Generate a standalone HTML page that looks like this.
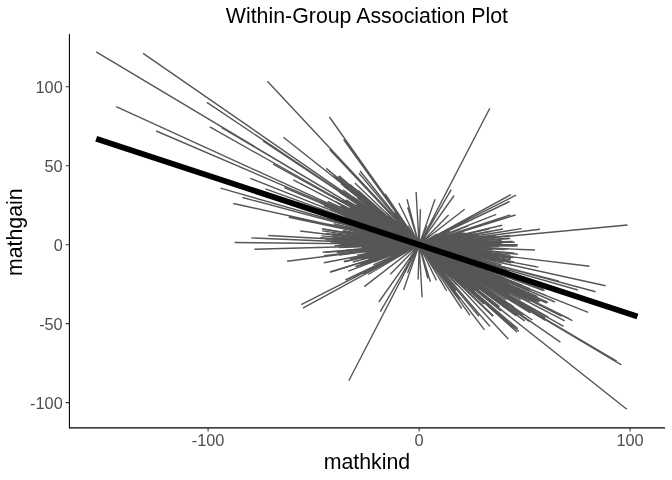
<!DOCTYPE html><html><head><meta charset="utf-8"><style>html,body{margin:0;padding:0;background:#fff;overflow:hidden;width:672px;height:480px;}svg{display:block;will-change:transform;}text{font-family:"Liberation Sans",sans-serif;}</style></head><body>
<svg width="672" height="480" viewBox="0 0 672 480">
<rect width="672" height="480" fill="#fff"/>
<g stroke="#565656" stroke-width="1.4" fill="none" stroke-linecap="butt">
<path d="M511.4 305.4L339.6 192.4M502.7 316.6L339.0 175.8M498.4 273.0L318.0 208.5M523.3 314.8L386.5 222.7M474.1 276.2L354.4 207.6M454.0 266.6L378.7 219.2M533.8 299.2L335.3 204.8M525.9 289.3L380.9 228.7M462.6 273.2L393.9 228.2M465.6 282.4L382.1 214.6M511.0 326.2L378.9 209.0M487.8 304.7L354.6 188.4M537.6 296.7L339.8 209.8M513.0 327.0L378.1 208.7M468.7 270.3L381.8 225.4M483.4 268.7L344.7 216.8M517.8 278.8L364.6 225.8M524.8 296.5L356.8 214.1M496.0 282.6L340.4 205.8M543.5 290.7L389.2 233.6M516.1 315.8L393.7 226.1M478.7 289.8L357.4 197.9M461.1 259.3L376.8 229.9M463.4 283.1L349.7 184.4M517.7 328.6L374.7 206.9M499.0 285.7L335.8 201.9M522.5 285.4L330.4 209.7M453.0 271.9L335.2 177.3M486.6 270.7L344.4 215.8M474.4 291.3L338.2 176.5M478.5 281.1L371.4 215.4M462.7 263.3L380.3 228.1M529.6 321.6L383.6 220.0M544.7 290.7L349.8 219.3M474.2 274.4L349.8 207.3M484.7 296.0L368.2 204.9M538.3 288.7L388.4 233.3M522.4 305.1L384.0 224.1M524.7 320.9L352.9 196.9M459.1 274.9L366.8 205.1M530.3 290.6L369.0 224.0M536.6 311.0L332.1 195.6M481.4 299.7L366.6 198.3M488.5 294.7L375.4 213.2M466.6 270.2L365.5 215.8M517.0 332.0L358.3 190.5M481.3 281.3L386.9 225.7M522.5 293.4L327.6 201.5M521.0 297.3L336.0 201.8M503.6 303.8L343.5 191.8M514.1 293.8L372.0 220.3M516.9 301.5L344.2 201.1M536.0 301.1L344.1 208.5M453.8 266.7L355.9 204.6M513.4 288.2L357.4 216.2M499.3 306.9L343.7 186.2M509.3 290.6L338.5 203.6M476.8 289.8L341.0 183.6M501.0 311.0L333.6 175.4M486.4 303.2L363.7 196.5"/>
<path d="M529.2 291.0L320.6 203.2M510.6 297.5L342.0 200.2M464.8 277.6L342.9 189.7M506.3 299.9L364.6 210.1M514.0 307.1L350.4 199.5M453.8 269.5L384.0 219.6M508.0 294.2L377.2 221.3M501.2 301.7L391.6 225.6M472.4 275.3L389.2 227.5M484.1 271.0L377.5 227.8M458.9 261.9L356.6 217.5M505.9 290.4L349.7 208.2M533.6 296.8L391.7 232.2M477.6 276.2L363.1 214.5M529.7 288.6L362.7 222.3M511.6 278.0L383.6 231.9M480.7 282.5L352.9 204.1M507.9 322.0L370.6 202.4M499.0 306.4L371.4 207.8M508.5 281.3L348.5 215.8M518.7 331.3L358.8 192.2M530.3 301.5L392.3 231.0M506.3 279.0L344.2 215.2M511.5 282.4L323.7 205.7M490.9 282.3L376.1 222.1M538.4 302.1L364.0 218.2M514.6 328.0L359.7 192.8M539.8 300.9L355.0 214.8M518.0 244.6L354.7 244.7M468.5 253.0L356.6 234.2M478.3 259.5L370.1 232.4M501.4 264.8L333.7 223.8M466.4 258.1L327.3 218.6M503.2 254.7L372.2 239.1M517.9 254.2L368.8 239.8M490.4 258.0L357.0 233.0M501.1 243.7L380.8 245.1M502.2 240.9L368.1 247.0M469.9 243.7L352.0 245.9M481.4 249.6L364.0 240.3M451.5 247.9L371.7 240.0M480.8 239.6L325.3 252.4M449.2 252.0L337.0 224.7M479.0 244.1L348.8 245.3M482.7 248.1L325.4 239.7M475.9 239.8L361.9 249.6M469.2 252.8L332.1 230.6M453.7 245.7L330.6 242.0M469.1 247.4L334.6 240.1M512.8 241.4L379.1 246.1M483.8 240.1L366.1 248.4M459.5 249.9L348.7 235.6M464.8 250.4L332.4 233.8M504.4 249.5L342.8 240.4M512.4 276.2L324.5 212.7M497.4 255.7L386.0 240.0M493.4 256.5L323.7 229.4M499.0 246.5L379.7 243.8M459.6 245.6L346.4 243.0M473.3 268.0L381.2 228.4"/>
<path d="M456.6 247.5L362.7 240.4M454.0 247.3L385.2 242.1M510.1 235.5L379.9 248.6M479.3 244.7L367.1 244.7M514.8 242.2L362.9 246.1M453.0 245.0L340.3 243.9M482.9 258.9L327.6 224.3M485.5 262.7L348.2 225.4M466.7 249.0L336.9 237.3M482.7 263.0L381.3 233.8M500.1 254.3L376.8 239.7M496.8 263.6L345.4 226.7M454.0 254.8L381.9 233.9M489.1 259.6L373.4 234.9M470.5 256.1L335.4 226.0M451.2 244.4L338.4 245.2M514.2 262.0L342.7 230.8M464.3 250.6L381.3 239.7M502.4 271.2L381.2 232.6M492.7 249.8L364.4 240.9M491.6 253.2L365.1 238.3M474.6 257.7L380.6 235.7M503.6 262.1L360.0 232.5M508.5 238.3L353.0 249.4M500.8 240.8L361.5 247.4M455.9 244.8L386.8 244.5M510.7 255.4L355.9 237.3M501.5 256.5L389.4 240.4M491.2 231.3L360.1 255.6M480.9 254.6L382.6 238.8M474.7 253.1L362.8 236.1M509.4 260.4L379.1 237.7M460.2 248.9L369.3 239.6M464.5 254.7L356.9 230.9M470.2 267.2L331.6 206.0M496.1 257.8L343.0 231.7M456.4 236.1L344.3 261.9M468.8 252.9L342.9 232.0M463.0 248.8L387.5 241.7M465.2 245.7L383.6 243.9M473.5 233.6L368.3 255.0M478.6 264.6L371.9 228.8M460.4 248.0L372.4 240.9M495.6 235.7L323.9 255.8M517.4 246.1L388.7 244.2M453.4 244.2L334.6 245.8M487.3 249.4L320.1 237.8M484.9 253.1L365.0 237.7M511.0 258.5L355.4 235.1M513.7 257.5L385.6 240.1M476.6 250.8L385.1 241.0M466.4 251.8L361.2 235.9M451.6 247.6L321.5 235.9M461.2 250.9L354.2 235.0M455.0 243.4L367.2 246.5M455.9 252.3L352.6 230.9M505.8 268.7L375.7 232.6M450.3 245.1L351.3 243.6M475.3 240.4L345.6 250.3M499.3 254.3L325.9 233.4"/>
<path d="M506.8 249.1L373.5 242.4M456.0 254.0L368.9 232.0M502.3 271.3L369.7 228.9M457.2 253.6L384.3 236.5M478.8 251.1L349.1 237.2M465.6 252.3L385.3 239.1M462.9 248.7L369.3 240.1M475.2 248.2L382.3 242.3M501.8 244.5L350.2 244.8M510.6 259.7L344.3 232.4M479.6 251.7L332.5 234.6M494.8 238.8L322.6 252.2M467.7 248.3L332.5 238.2M475.5 238.4L380.2 249.0M466.7 253.5L343.1 230.6M468.6 251.6L385.0 239.9M450.8 248.5L385.8 240.6M458.1 241.8L364.2 248.7M488.2 267.7L375.3 230.1M478.4 235.2L364.4 253.4M489.7 251.3L331.6 236.4M499.4 254.7L382.7 240.1M498.7 246.3L357.9 243.4M514.4 253.1L333.8 237.1M511.4 262.9L358.0 232.6M478.4 255.9L359.3 233.3M485.7 254.1L322.2 230.9M489.1 229.0L382.8 252.8M452.3 250.1L321.9 228.8M451.4 243.7L348.7 246.7M475.6 234.3L374.8 252.8M468.0 251.4L375.4 238.6M501.7 243.3L372.2 245.4M473.6 247.6L371.8 242.1M502.5 277.1L350.8 218.1M477.0 249.0L379.2 241.7M451.2 250.7L377.9 237.0M456.0 243.3L338.9 247.6M445.9 241.2L347.2 253.9M460.2 229.3L348.3 271.2M465.8 233.3L367.9 257.1M452.6 227.0L363.7 273.8M449.9 231.1L373.4 264.8M446.6 230.4L372.0 269.0M461.8 231.6L367.7 260.4M467.4 240.1L341.0 252.1M461.6 235.6L360.2 257.3M451.3 239.2L357.1 255.2M456.5 236.5L371.9 255.0M439.8 234.5L372.7 267.5M464.2 232.9L352.8 262.0M468.2 225.9L374.4 261.8M441.2 240.2L350.1 258.7M471.3 233.0L343.8 261.5M467.3 234.3L351.0 259.4M445.6 238.1L361.6 259.0M447.2 241.0L339.0 255.1M451.6 235.7L385.2 254.1M443.9 236.1L357.0 266.1M470.5 238.1L355.8 252.8"/>
<path d="M441.6 236.9L355.4 266.7M462.5 232.8L368.4 258.5M456.6 295.0L403.7 224.1M481.9 305.4L385.7 212.4M483.9 304.1L388.3 216.4M458.2 281.6L393.8 220.8M481.7 326.1L394.4 212.6M471.3 299.2L395.9 220.5M459.6 299.5L404.4 224.7M489.8 326.3L405.0 228.4M462.4 281.6L392.7 222.2M459.1 290.8L404.9 228.3M477.4 311.6L393.4 215.2M452.9 286.4L399.0 219.9M484.5 329.9L403.2 223.9M530.4 312.9L346.1 199.9M539.6 301.6L346.4 210.3M508.1 291.5L382.3 225.3M510.1 286.3L383.5 228.4M507.1 293.8L353.2 207.9M539.8 315.4L351.6 205.1M545.2 317.9L343.5 200.8M548.3 317.0L387.5 227.0M509.1 284.8L380.4 227.4M526.5 298.8L355.8 212.8M505.0 295.1L372.4 217.2M520.8 299.7L386.5 227.0M96.2 51.9L545.4 320.4M143.1 53.3L560.4 342.1M116.2 106.7L546.7 303.0M156.2 131.0L555.0 302.0M206.9 102.4L532.4 320.0M209.8 126.9L563.6 326.3M221.7 127.6L621.4 364.8M267.4 81.2L508.3 339.0M329.4 117.0L470.0 315.4M283.4 137.2L626.8 409.3M263.0 141.0L476.4 282.7M329.6 149.6L456.9 284.9M343.6 139.6L455.9 295.8M360.1 171.0L456.0 290.8M354.9 182.9L493.4 316.1M489.8 108.2L348.8 380.8M416.1 192.0L422.1 297.3M398.8 203.0L436.4 280.4M407.0 199.2L427.8 278.4M420.4 209.3L418.1 279.5M435.0 199.3L403.6 290.0M407.7 207.4L430.4 281.7M451.2 189.6L380.3 311.7M454.1 195.5L378.8 302.0M464.7 209.2L364.3 286.6M448.6 214.9L390.3 274.2M511.1 194.5L302.9 308.1M516.0 195.2L301.2 304.6M509.6 201.5L345.4 280.0M496.2 214.4L392.4 255.2M515.6 215.0L330.0 272.0M510.4 214.9L359.9 264.0M502.2 225.3L375.2 254.9"/>
<path d="M502.9 229.0L323.8 262.7M521.7 228.6L365.5 253.1M627.5 225.0L336.7 252.5M540.0 229.2L287.1 261.2M510.4 238.5L373.0 247.8M516.7 245.4L234.6 242.5M535.0 250.0L251.2 237.9M521.9 249.6L268.3 235.5M589.5 266.3L300.2 231.0M538.5 267.1L381.8 237.7M536.3 266.7L359.9 233.5M605.6 285.8L233.3 203.5M595.6 291.7L242.5 197.5M588.2 312.3L250.2 178.3M569.6 318.8L363.6 217.3M577.9 290.0L220.5 188.2M616.6 361.1L372.7 217.3M572.4 320.6L361.0 215.9M517.5 315.3L378.1 215.2M446.6 290.7L407.8 225.8M479.0 316.2L359.0 173.2M492.9 316.2L386.3 212.8M517.9 314.8L364.3 205.7M548.1 302.3L371.2 223.3M461.7 308.5L385.2 193.8M368.2 274.5L437.4 233.9M407.5 272.9L426.8 226.0M254.4 249.2L481.0 243.0M330.4 272.1L482.5 225.1M265.4 188.8L543.6 289.3M293.3 179.8L564.7 320.8M273.1 164.2L479.1 277.7M288.8 217.3L496.3 260.9M545.9 295.3L355.4 219.2M559.0 281.2L374.7 233.1M561.4 316.0L364.1 217.1M326.2 168.4L455.0 274.1M284.3 187.5L485.4 272.8"/>
</g>
<path d="M96.2 138.8L637.5 316.5" stroke="#000" stroke-width="5.9" fill="none" stroke-linecap="butt"/>
<path d="M69.4 34.2V427.9H664.7" stroke="#000" stroke-width="1.07" fill="none" stroke-linecap="round" stroke-linejoin="round"/>
<path d="M65.75 86.71H69.4M65.75 165.69H69.4M65.75 244.67H69.4M65.75 323.65H69.4M65.75 402.63H69.4M208.10 427.9V431.6M419.10 427.9V431.6M630.10 427.9V431.6" stroke="#333" stroke-width="1.07" fill="none"/>
<text x="62.7" y="92.71" text-anchor="end" font-size="16.3" fill="#4d4d4d">100</text>
<text x="62.7" y="171.69" text-anchor="end" font-size="16.3" fill="#4d4d4d">50</text>
<text x="62.7" y="250.67" text-anchor="end" font-size="16.3" fill="#4d4d4d">0</text>
<text x="62.7" y="329.65" text-anchor="end" font-size="16.3" fill="#4d4d4d">-50</text>
<text x="62.7" y="408.63" text-anchor="end" font-size="16.3" fill="#4d4d4d">-100</text>
<text x="208.10" y="446" text-anchor="middle" font-size="16.3" fill="#4d4d4d">-100</text>
<text x="419.10" y="446" text-anchor="middle" font-size="16.3" fill="#4d4d4d">0</text>
<text x="630.10" y="446" text-anchor="middle" font-size="16.3" fill="#4d4d4d">100</text>
<text x="366.9" y="469.1" text-anchor="middle" font-size="21.33" fill="#000">mathkind</text>
<text transform="translate(22.4 232.2) rotate(-90)" text-anchor="middle" font-size="21.33" fill="#000">mathgain</text>
<text x="366.9" y="23.1" text-anchor="middle" font-size="21.33" fill="#000">Within-Group Association Plot</text>
</svg></body></html>
